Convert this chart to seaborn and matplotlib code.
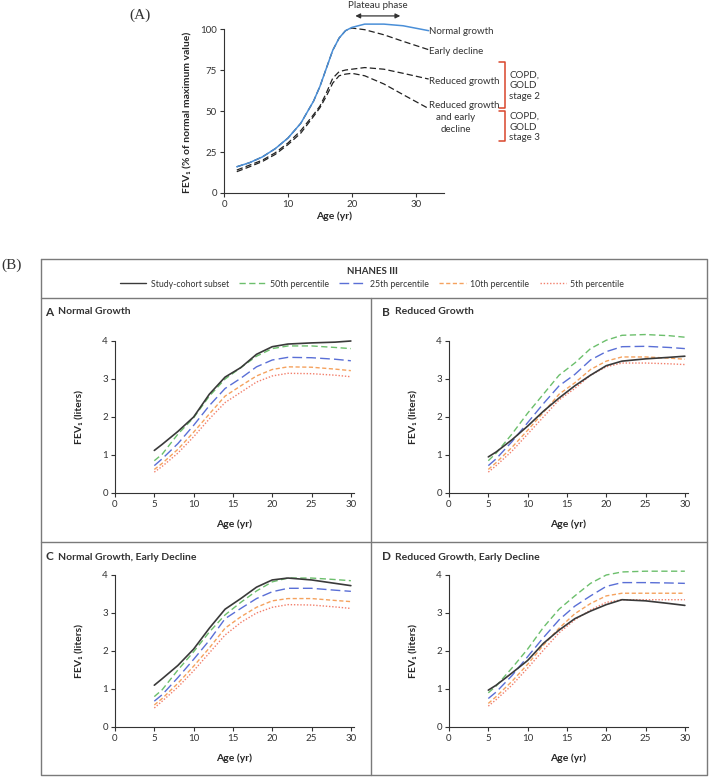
import numpy as np
import pandas as pd
import seaborn as sns
import matplotlib.pyplot as plt
from matplotlib.lines import Line2D

W, H = 709, 780

# ---- (A) schematic trajectories, FEV1 as % of normal maximum value
age_a = [2, 4, 6, 8, 10, 12, 14, 15, 16, 17, 18, 19, 20, 22, 25, 28, 32]
normal_growth = [16, 18.5, 22, 27, 33.5, 42.5, 56, 65, 76, 87, 94.5, 99, 101, 103, 103, 102, 99]
early_decline = [16, 18.5, 22, 27, 33.5, 42.5, 56, 65, 76, 87, 94.5, 99, 100.6, 99.6, 96.5, 92.5, 87.4]
reduced_growth = [14, 17, 20, 24.5, 30.5, 38, 47.8, 53, 61, 70, 74, 75, 75.5, 76.5, 75.5, 73, 69.5]
reduced_early = [13, 16, 19.2, 23.5, 29.5, 36.5, 46.7, 52, 59, 67, 71.5, 72.5, 73, 71.5, 66.5, 60, 51.5]

# ---- (B) FEV1 in liters, study cohort vs NHANES III percentiles
ages = [5, 6, 8, 10, 12, 14, 16, 18, 20, 22, 25, 28, 30]

ng_cohort = [1.12, 1.28, 1.62, 2.0, 2.6, 3.05, 3.3, 3.65, 3.85, 3.92, 3.95, 3.97, 4.0]
ng_p50 = [0.85, 1.02, 1.55, 1.98, 2.55, 3.0, 3.3, 3.6, 3.8, 3.87, 3.87, 3.83, 3.8]
ng_p25 = [0.72, 0.9, 1.3, 1.78, 2.3, 2.75, 3.02, 3.32, 3.5, 3.57, 3.56, 3.52, 3.48]
ng_p10 = [0.62, 0.78, 1.15, 1.6, 2.08, 2.55, 2.82, 3.08, 3.25, 3.32, 3.31, 3.26, 3.22]
ng_p5 = [0.55, 0.7, 1.05, 1.48, 1.95, 2.38, 2.65, 2.92, 3.08, 3.15, 3.14, 3.1, 3.06]

rg_cohort = [0.95, 1.08, 1.4, 1.76, 2.15, 2.5, 2.82, 3.1, 3.35, 3.47, 3.53, 3.57, 3.6]
rg_p50 = [0.85, 1.05, 1.55, 2.1, 2.6, 3.1, 3.42, 3.8, 4.02, 4.15, 4.17, 4.14, 4.1]
rg_p25 = [0.72, 0.9, 1.35, 1.85, 2.35, 2.82, 3.12, 3.5, 3.72, 3.85, 3.86, 3.83, 3.8]
rg_p10 = [0.62, 0.8, 1.2, 1.65, 2.12, 2.6, 2.9, 3.25, 3.47, 3.58, 3.58, 3.55, 3.52]
rg_p5 = [0.55, 0.72, 1.1, 1.55, 2.0, 2.45, 2.75, 3.1, 3.32, 3.42, 3.42, 3.4, 3.38]

nd_cohort = [1.1, 1.27, 1.62, 2.05, 2.6, 3.1, 3.38, 3.68, 3.87, 3.92, 3.87, 3.78, 3.72]
nd_p50 = [0.8, 0.98, 1.5, 1.98, 2.5, 2.95, 3.28, 3.58, 3.82, 3.92, 3.92, 3.88, 3.85]
nd_p25 = [0.68, 0.85, 1.3, 1.78, 2.28, 2.85, 3.12, 3.38, 3.56, 3.65, 3.65, 3.6, 3.57]
nd_p10 = [0.58, 0.75, 1.15, 1.6, 2.08, 2.6, 2.9, 3.15, 3.32, 3.38, 3.38, 3.33, 3.3]
nd_p5 = [0.5, 0.68, 1.05, 1.48, 1.95, 2.42, 2.75, 3.0, 3.15, 3.22, 3.21, 3.16, 3.12]

rd_cohort = [0.97, 1.1, 1.42, 1.75, 2.2, 2.55, 2.85, 3.05, 3.22, 3.35, 3.32, 3.25, 3.2]
rd_p50 = [0.9, 1.08, 1.55, 2.05, 2.62, 3.1, 3.45, 3.78, 4.0, 4.08, 4.1, 4.1, 4.1]
rd_p25 = [0.75, 0.92, 1.35, 1.85, 2.35, 2.82, 3.18, 3.45, 3.7, 3.8, 3.8, 3.79, 3.78]
rd_p10 = [0.62, 0.8, 1.2, 1.65, 2.15, 2.6, 2.98, 3.25, 3.45, 3.52, 3.52, 3.52, 3.52]
rd_p5 = [0.55, 0.72, 1.1, 1.55, 2.02, 2.48, 2.82, 3.08, 3.28, 3.35, 3.35, 3.35, 3.35]

series_names = ["Study-cohort subset", "50th percentile", "25th percentile",
                "10th percentile", "5th percentile"]
panel_titles = [("A", "Normal Growth"), ("B", "Reduced Growth"),
                ("C", "Normal Growth, Early Decline"), ("D", "Reduced Growth, Early Decline")]

colors = ["#3a3a3a", "#6cbf6c", "#5a6fd6", "#f5a25e", "#f27f6b"]
styles = ["-", (0, (4.5, 2.5)), (0, (7, 3)), (0, (3, 1.8)), (0, (1, 1.3))]

sns.set_style("ticks")
plt.rcParams["font.family"] = ["Lato", "DejaVu Sans"]
plt.rcParams["axes.edgecolor"] = "#333333"
plt.rcParams["xtick.color"] = "#333333"
plt.rcParams["ytick.color"] = "#333333"
plt.rcParams["text.color"] = "#333333"

fig = plt.figure(figsize=(W / 100, H / 100), dpi=100)


def fx(x):
    return x / W


def fy(y):
    return 1 - y / H


def style_axis(ax):
    for s in ["top", "right"]:
        ax.spines[s].set_visible(False)
    for s in ["left", "bottom"]:
        ax.spines[s].set_linewidth(0.8)
    ax.tick_params(length=3, width=0.8, labelsize=7, pad=2)


# ================= (A) =================
axA = fig.add_axes([fx(224), fy(193), 220 / W, 173.8 / H])
sns.lineplot(x=age_a, y=early_decline, ax=axA, color="#222222", lw=0.9,
             linestyle=(0, (5, 2.5)), errorbar=None)
sns.lineplot(x=age_a, y=reduced_growth, ax=axA, color="#222222", lw=0.9,
             linestyle=(0, (5, 2.5)), errorbar=None)
sns.lineplot(x=age_a, y=reduced_early, ax=axA, color="#222222", lw=0.9,
             linestyle=(0, (5, 2.5)), errorbar=None)
sns.lineplot(x=age_a, y=normal_growth, ax=axA, color="#4a8fd8", lw=1.1, errorbar=None)
axA.set_xlim(0, 34.4)
axA.set_ylim(0, 106)
axA.set_xticks([0, 10, 20, 30])
axA.set_yticks([0, 25, 50, 75, 100])
axA.spines["left"].set_bounds(0, 100)
style_axis(axA)
axA.set_xlabel("Age (yr)", fontsize=7.5, fontweight="bold")
axA.set_ylabel("FEV\u2081 (% of normal maximum value)", fontsize=7.5, fontweight="bold")
axA.xaxis.label.set_va("center")
axA.yaxis.label.set_va("center")
axA.xaxis.set_label_coords(0.5, -0.132)
axA.yaxis.set_label_coords(-0.164, 0.466)

fig.text(fx(140), fy(15), "(A)", family="Liberation Serif", fontsize=11, ha="center", va="center")
fig.text(fx(12), fy(265), "(B)", family="Liberation Serif", fontsize=11, ha="center", va="center")

# plateau arrow
axA.annotate("", xy=(28.0, 108), xytext=(20.1, 108), annotation_clip=False,
             arrowprops=dict(arrowstyle="<|-|>", color="#333333", lw=0.9, mutation_scale=7))
fig.text(fx(378), fy(6), "Plateau phase", fontsize=7, ha="center", va="center")

lab_kw = dict(fontsize=7, va="center")
fig.text(fx(429), fy(32), "Normal growth", ha="left", **lab_kw)
fig.text(fx(429), fy(52), "Early decline", ha="left", **lab_kw)
fig.text(fx(429), fy(82), "Reduced growth", ha="left", **lab_kw)
fig.text(fx(429), fy(106), "Reduced growth", ha="left", **lab_kw)
fig.text(fx(456), fy(118), "and early", ha="center", **lab_kw)
fig.text(fx(456), fy(129), "decline", ha="center", **lab_kw)

red = "#d9452b"
for top, bot in [(62, 108), (111, 141)]:
    fig.add_artist(Line2D([fx(499), fx(505), fx(505), fx(499)],
                          [fy(top), fy(top), fy(bot), fy(bot)],
                          color=red, lw=1.1, transform=fig.transFigure))
fig.text(fx(509), fy(86), "COPD,\nGOLD\nstage 2", fontsize=7, ha="left", va="center",
         linespacing=1.25)
fig.text(fx(509), fy(127), "COPD,\nGOLD\nstage 3", fontsize=7, ha="left", va="center",
         linespacing=1.25)

# ================= (B) frame =================
frame = "#7a7a7a"
frame_lines = [
    ([41, 707, 707, 41, 41], [259, 259, 775, 775, 259]),
    ([41, 707], [298, 298]),
    ([41, 707], [542, 542]),
    ([371, 371], [298, 775]),
]
for xs, ys in frame_lines:
    fig.add_artist(Line2D([fx(v) for v in xs], [fy(v) for v in ys], color=frame, lw=1.0,
                          transform=fig.transFigure))

fig.text(fx(372), fy(271), "NHANES III", fontsize=7, fontweight="bold", ha="center", va="center")

panel_data = [
    [ng_cohort, ng_p50, ng_p25, ng_p10, ng_p5],
    [rg_cohort, rg_p50, rg_p25, rg_p10, rg_p5],
    [nd_cohort, nd_p50, nd_p25, nd_p10, nd_p5],
    [rd_cohort, rd_p50, rd_p25, rd_p10, rd_p5],
]
panel_pos = [(115, 493), (449, 493), (115, 727), (449, 727)]
title_pos = [(45, 312), (382, 312), (45, 557), (382, 557)]

for i, series in enumerate(panel_data):
    x0, y0 = panel_pos[i]
    ax = fig.add_axes([fx(x0), fy(y0), 239 / W, 163.4 / H])
    # percentiles first, cohort on top
    for j in [4, 3, 2, 1, 0]:
        sns.lineplot(x=ages, y=series[j], ax=ax, color=colors[j], linestyle=styles[j],
                     lw=1.2 if j == 0 else 1.0, errorbar=None)
    ax.set_xlim(0, 30.4)
    ax.set_ylim(0, 4.3)
    ax.set_xticks([0, 5, 10, 15, 20, 25, 30])
    ax.set_yticks([0, 1, 2, 3, 4])
    ax.spines["left"].set_bounds(0, 4)
    style_axis(ax)
    ax.set_xlabel("Age (yr)", fontsize=7.5, fontweight="bold")
    ax.set_ylabel("FEV\u2081 (liters)", fontsize=7.5, fontweight="bold")
    ax.xaxis.label.set_va("center")
    ax.yaxis.label.set_va("center")
    ax.xaxis.set_label_coords(0.5, -0.19)
    ax.yaxis.set_label_coords(-0.146, 0.465)

    tx, ty = title_pos[i]
    letter, name = panel_titles[i]
    fig.text(fx(tx), fy(ty), letter, fontsize=8.5, fontweight="bold", ha="left", va="center")
    fig.text(fx(tx + 13), fy(ty), name, fontsize=7.5, fontweight="bold", ha="left", va="center")

handles = [Line2D([], [], color=colors[k], linestyle=styles[k], lw=1.0) for k in range(5)]
fig.legend(handles, series_names, loc="center", bbox_to_anchor=(fx(372), fy(284)), ncol=5,
           frameon=False, fontsize=6.3, handlelength=3.0, handletextpad=0.5,
           columnspacing=1.2, borderaxespad=0, borderpad=0)

fig.savefig("out.png", dpi=100)
